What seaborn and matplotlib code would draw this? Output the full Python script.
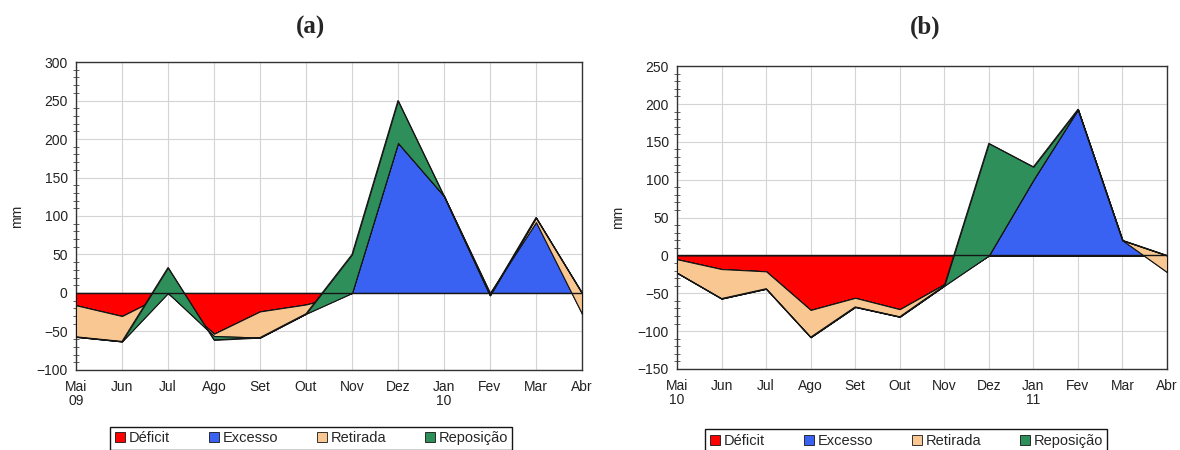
import numpy as np
import pandas as pd
import matplotlib
matplotlib.use("Agg")
import matplotlib.pyplot as plt
import seaborn as sns
from matplotlib.ticker import MultipleLocator
from matplotlib.lines import Line2D

# month axis
meses = ["Mai", "Jun", "Jul", "Ago", "Set", "Out", "Nov", "Dez", "Jan", "Fev", "Mar", "Abr"]
rotulos_a = ["Mai\n09", "Jun", "Jul", "Ago", "Set", "Out", "Nov", "Dez", "Jan\n10", "Fev", "Mar", "Abr"]
rotulos_b = ["Mai\n10", "Jun", "Jul", "Ago", "Set", "Out", "Nov", "Dez", "Jan\n11", "Fev", "Mar", "Abr"]

# (a) 2009/2010 - stacked series (mm)
deficit_a = [-16, -30, 0, -53, -24, -15, 0, 0, 0, 0, 0, 0]
excesso_a = [0, 0, 0, 0, 0, 0, 0, 195, 126, 0, 92, -27]
retirada_a = [-41, -33, 0, -3, -34, -12, 0, 0, 0, -3, 6, 27]
reposicao_a = [0, 0, 33, -5, 0, 0, 50, 55, 0, 0, 0, 0]

# (b) 2010/2011
deficit_b = [-5, -18, -21, -72, -56, -71, -38, 0, 0, 0, 0, 0]
excesso_b = [0, 0, 0, 0, 0, 0, 0, 0, 100, 193, 20, -22]
retirada_b = [-18, -39, -23, -36, -12, -10, -2, 0, 0, 0, 0, 22]
reposicao_b = [0, 0, 0, 0, 0, 0, 0, 148, 17, 0, 0, 0]

series = ["Déficit", "Excesso", "Retirada", "Reposição"]
cores = ["#FF0000", "#3A62F2", "#F9C892", "#2F8F5B"]

sns.set_style("white")
plt.rcParams["font.family"] = ["Liberation Sans", "DejaVu Sans"]

fig = plt.figure(figsize=(11.8, 4.5), dpi=100)
ax_a = fig.add_axes([0.0644, 0.178, 0.4288, 0.684])
ax_b = fig.add_axes([0.5737, 0.180, 0.4153, 0.673])


def painel(ax, valores, rotulos, ylim):
    df = pd.DataFrame(dict(zip(series, valores)), index=meses)
    cum = df.cumsum(axis=1)
    x = np.arange(len(meses))
    base = np.zeros(len(meses))
    # excel-like stacked area: each layer from previous cumulative line
    for nome, cor in zip(series, cores):
        topo = cum[nome].values
        ax.fill_between(x, base, topo, facecolor=cor, edgecolor="#151515",
                        linewidth=0.8, zorder=3)
        base = topo
    sns.lineplot(x=x, y=cum["Reposição"].values, color="#151515", lw=0.8,
                 ax=ax, zorder=4)
    ax.axhline(0, color="#151515", lw=1.0, zorder=4)

    ax.set_xlim(0, len(meses) - 1)
    ax.set_ylim(*ylim)
    ax.set_xticks(x)
    ax.set_xticklabels(rotulos, fontsize=10, linespacing=1.0)
    ax.yaxis.set_major_locator(MultipleLocator(50))
    ax.yaxis.set_minor_locator(MultipleLocator(10))
    ax.tick_params(axis="y", which="major", direction="out", length=4,
                   width=0.8, labelsize=10, pad=2, colors="#222222")
    ax.tick_params(axis="y", which="minor", direction="inout", length=4,
                   width=0.6, left=True, colors="#444444")
    ax.tick_params(axis="x", length=0, pad=7, colors="#222222")
    ax.grid(True, which="major", color="#d4d4d4", lw=0.8, zorder=0)
    ax.set_axisbelow(True)
    for s in ax.spines.values():
        s.set_color("#333333")
        s.set_linewidth(1.0)
        s.set_visible(True)
    ax.set_ylabel("mm", fontsize=10, labelpad=9)


painel(ax_a, [deficit_a, excesso_a, retirada_a, reposicao_a], rotulos_a, (-100, 300))
painel(ax_b, [deficit_b, excesso_b, retirada_b, reposicao_b], rotulos_b, (-150, 250))

fig.text(0.263, 0.94, "(a)", family="Liberation Serif", weight="bold",
         fontsize=18, ha="center", va="center")
fig.text(0.784, 0.94, "(b)", family="Liberation Serif", weight="bold",
         fontsize=18, ha="center", va="center")

handles = [Line2D([], [], ls="none", marker="s", markersize=7,
                  markerfacecolor=c, markeredgecolor="#151515", markeredgewidth=0.6)
           for c in cores]
for cx, top in [(0.2636, 0.051), (0.7678, 0.046)]:
    fig.legend(handles, series, loc="upper center", bbox_to_anchor=(cx, top),
               ncol=4, fontsize=10.5, frameon=True, fancybox=False,
               edgecolor="#151515", framealpha=1, handlelength=0.8,
               handletextpad=0.2, columnspacing=2.6, borderpad=0.3,
               borderaxespad=0)

fig.savefig("out.png", dpi=100)
